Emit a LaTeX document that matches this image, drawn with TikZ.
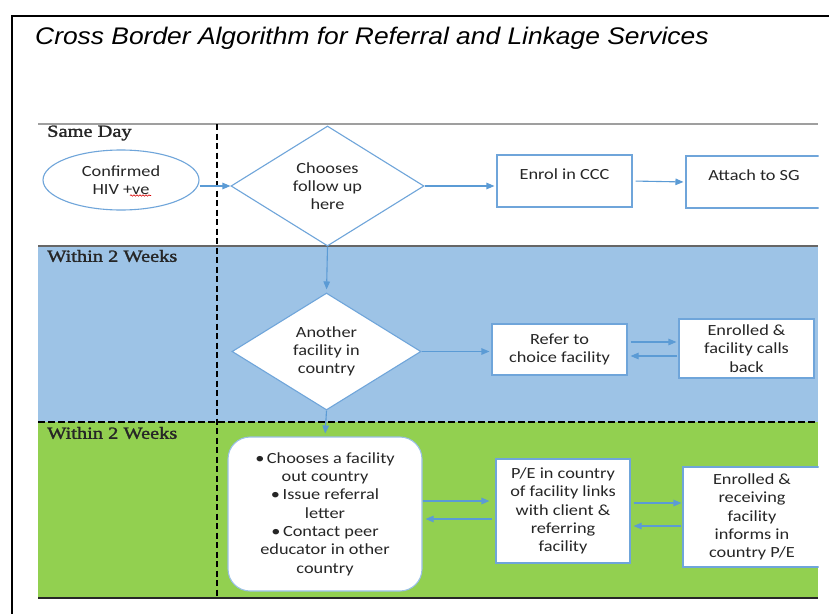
\documentclass[tikz,border=0pt]{standalone}
\usepackage{fontspec}
\usetikzlibrary{shapes.geometric,arrows.meta,decorations.pathmorphing}

\newfontfamily\titlefont[FakeStretch=1.1]{Liberation Sans}
\newfontfamily\lanefont[FakeStretch=1.2,FakeBold=1.6]{Liberation Serif}
\newfontfamily\boxfont[FakeStretch=1.18]{Carlito}

\definecolor{laneblue}{HTML}{9DC3E6}
\definecolor{lanegreen}{HTML}{92D050}
\definecolor{shapeline}{HTML}{6FA5DA}
\definecolor{arrowblue}{HTML}{5B9BD5}

\tikzset{
  boxtext/.style={font=\boxfont\fontsize{15.5}{18.3}\selectfont, text=black!85, align=center},
  flowbox/.style={boxtext, draw=shapeline, line width=1.1pt, fill=white, inner sep=0pt},
  decision/.style={flowbox, shape=diamond},
  flow/.style={draw=arrowblue, line width=1.1pt, -{Triangle[length=8pt,width=6.5pt]}},
  lanelabel/.style={font=\lanefont\fontsize{17}{19}\selectfont, anchor=west, inner sep=0pt, text=black!85},
  lanesep/.style={line width=2pt}
}

\begin{document}
\begin{tikzpicture}[x=1pt,y=-1pt]
\useasboundingbox (0,0) rectangle (829,613);
\fill[white] (0,0) rectangle (829,613);

% outer frame
\draw[black, line width=2.3pt] (12,16) rectangle (845,630);

% title
\node[anchor=west, inner sep=0pt, font=\titlefont\itshape\fontsize{24}{28}\selectfont] (title) at (35,38)
  {Cross Border Algorithm for Referral and Linkage Services};

% swim lanes
\fill[laneblue] (38,246) rectangle (818,422);
\fill[lanegreen] (38,422) rectangle (818,598);
\draw[gray!75, line width=1.5pt] (38,124) -- (818,124);
\draw[gray!80!black, lanesep] (38,246) -- (818,246);
\draw[black, lanesep, dash pattern=on 7pt off 3pt] (38,422) -- (818,422);
\draw[black!85, line width=1.5pt] (38,598) -- (818,598);
\draw[black, line width=2.6pt, dash pattern=on 6pt off 3.5pt] (217,124) -- (217,598);

\node[lanelabel] (lsame) at (47,133) {Same Day};
\node[lanelabel] (lweek) at (47,256) {Within 2 Weeks};
\node[lanelabel] (lcross) at (47,433) {Within 2 Weeks};

% same day
\node[flowbox, ellipse, minimum width=156pt, minimum height=60pt] (ell) at (121,180) {Confirmed\\HIV +ve};
\draw[red!85!black, line width=0.6pt, decorate, decoration={snake, amplitude=0.7pt, segment length=3pt}] (130,195.5) -- (151,195.5);
\node[decision, minimum width=193pt, minimum height=120pt] (d1) at (327.5,186) {Chooses\\follow up\\here};
\node[flowbox, minimum width=135pt, minimum height=52pt, label={[boxtext,yshift=7pt]center:Enrol in CCC}] (enrol) at (564.5,181) {};
\begin{scope}
  \clip (0,0) rectangle (818.5,613);
  \node[flowbox, minimum width=136pt, minimum height=52pt, label={[boxtext,yshift=7pt]center:Attach to SG}] (attach) at (754,182) {};
  \node[flowbox, minimum width=138pt, minimum height=100pt] (inform) at (752,517) {Enrolled \&\\receiving\\facility\\informs in\\country P/E};
\end{scope}

% in-country referral
\node[decision, minimum width=189pt, minimum height=117pt] (d2) at (326.5,351.5) {Another\\facility in\\country};
\node[flowbox, minimum width=135pt, minimum height=51pt] (refer) at (559.5,349.5) {Refer to\\choice facility};
\node[flowbox, minimum width=135pt, minimum height=59pt] (back) at (746.5,348.5) {Enrolled \&\\facility calls\\back};

% cross-border referral
\node[flowbox, rounded corners=22pt, minimum width=194pt, minimum height=154pt, draw=shapeline!70] (rb) at (325,514)
  {\textbullet\,Chooses a facility\\out country\\\textbullet\,Issue referral\\letter\\\textbullet\,Contact peer\\educator in other\\country};
\node[flowbox, minimum width=134pt, minimum height=104pt] (pe) at (563,511) {P/E in country\\of facility links\\with client \&\\referring\\facility};

% connectors
\draw[flow] (ell.east |- d1.west) -- (d1.west);
\draw[flow, shorten >=2pt] (d1.east) -- (d1.east -| enrol.west);
\draw[flow, shorten <=3pt, shorten >=2pt] (enrol.east) -- (attach.west);
\draw[flow, shorten >=3pt] (d1.south) -- (d2.north);
\draw[flow, shorten >=2pt] (d2.east) -- (d2.east -| refer.west);
\draw[flow, shorten <=3pt, shorten >=2pt] ([yshift=7.5pt]refer.east) -- ([yshift=7.5pt]refer.east -| back.west);
\draw[flow, shorten <=1pt, shorten >=3pt] ([yshift=-7.5pt]back.west) -- ([yshift=-7.5pt]back.west -| refer.east);
\draw[flow, shorten >=3pt] (d2.south) -- (rb.north);
\draw[flow, shorten >=6pt] ([yshift=13pt]rb.east) -- ([yshift=13pt]rb.east -| pe.west);
\draw[flow, shorten <=3pt, shorten >=3pt] ([yshift=-8pt]pe.west) -- ([yshift=-8pt]pe.west -| rb.east);
\draw[flow, shorten <=3pt, shorten >=1pt] ([yshift=8pt]pe.east) -- ([yshift=8pt]pe.east -| inform.west);
\draw[flow, shorten <=1pt, shorten >=3pt] ([yshift=-9pt]inform.west) -- ([yshift=-9pt]inform.west -| pe.east);
\end{tikzpicture}
\end{document}
